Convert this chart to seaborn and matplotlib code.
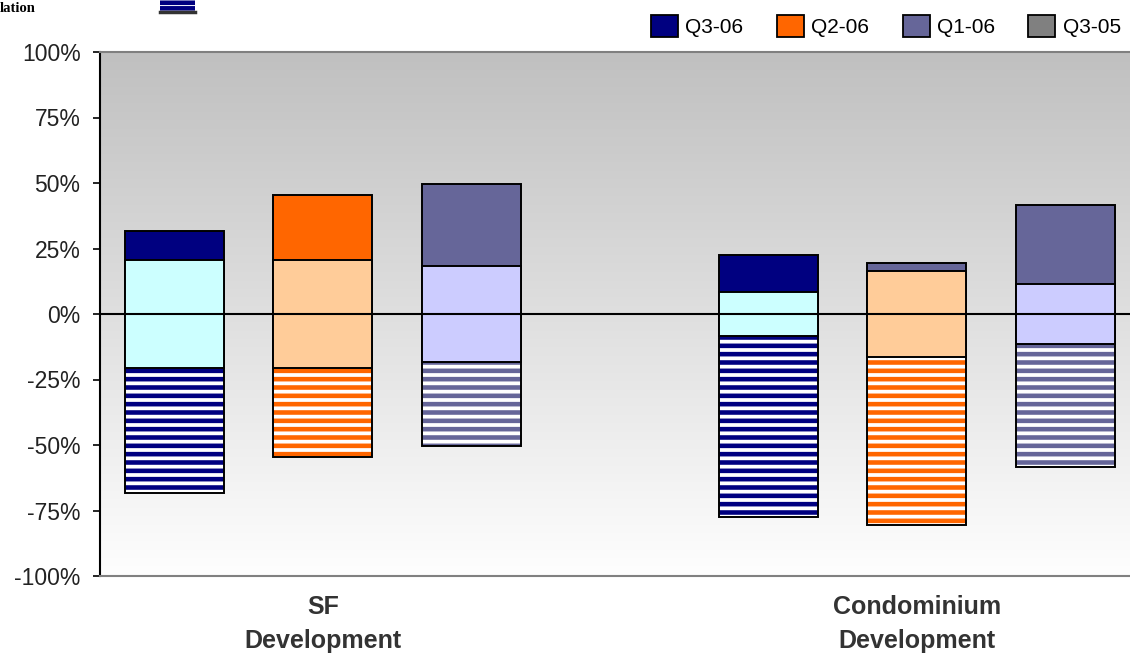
import numpy as np
import pandas as pd
import matplotlib
matplotlib.use("Agg")
import matplotlib.pyplot as plt
from matplotlib.colors import LinearSegmentedColormap
from matplotlib.patches import Patch, Rectangle
from matplotlib.lines import Line2D
import seaborn as sns

# ---- data -------------------------------------------------------------
categories = ["SF Development", "Condominium Development"]
category_labels = ["SF\nDevelopment", "Condominium\nDevelopment"]
quarters = ["Q3-06", "Q2-06", "Q1-06", "Q3-05"]
bar_quarters = ["Q3-06", "Q2-06", "Q1-06"]

# share of responses (%), in bar_quarters order
easier_sf = [11, 25, 31]
unchanged_sf = [41, 41, 37]
tighter_sf = [48, 34, 32]

easier_condo = [14, 3, 30]
unchanged_condo = [17, 33, 23]
tighter_condo = [69, 64, 47]

yticks = [-100, -75, -50, -25, 0, 25, 50, 75, 100]
ytick_labels = ["-100%", "-75%", "-50%", "-25%", "0%", "25%", "50%", "75%", "100%"]

dark = {"Q3-06": "#000080", "Q2-06": "#FF6600", "Q1-06": "#666699", "Q3-05": "#808080"}
light = {"Q3-06": "#CCFFFF", "Q2-06": "#FFCC99", "Q1-06": "#CCCCFF", "Q3-05": "#DDDDDD"}
slate = "#666699"

# ---- long table: unchanged share straddles zero ------------------------
rows = []
for cat, e_list, u_list, t_list in [
    (categories[0], easier_sf, unchanged_sf, tighter_sf),
    (categories[1], easier_condo, unchanged_condo, tighter_condo),
]:
    for q, e, u, t in zip(bar_quarters, e_list, u_list, t_list):
        rows.append({"category": cat, "quarter": q, "easier": e,
                     "unchanged": u, "tighter": t})
df = pd.DataFrame(rows)
df["upper"] = df["unchanged"] / 2 + df["easier"]
df["half_up"] = df["unchanged"] / 2
df["half_down"] = -df["unchanged"] / 2
df["lower"] = -(df["unchanged"] / 2 + df["tighter"])

# ---- figure -----------------------------------------------------------
plt.rcParams["font.family"] = ["Liberation Sans", "DejaVu Sans"]
plt.rcParams["hatch.linewidth"] = 3.3

W, H = 1130, 655
fig = plt.figure(figsize=(W / 100, H / 100), dpi=100)
ax = fig.add_axes([100 / W, 1 - 576 / H, 1 - 100 / W, 524 / H])

XMIN, XMAX = -0.5, 1.234
grad = np.linspace(0, 1, 256).reshape(-1, 1)
cmap = LinearSegmentedColormap.from_list("plotbg", ["#fefefe", "#c0c0c0"])
ax.imshow(grad, extent=(XMIN, XMAX, -100, 100), origin="lower",
          aspect="auto", cmap=cmap, zorder=0)

common = dict(data=df, x="category", hue="quarter", order=categories,
              hue_order=quarters, width=1.0, gap=1 / 3, dodge=True,
              saturation=1, legend=False, ax=ax, errorbar=None)
EDGE = 1.4


def layer(col, palette, **kw):
    n0 = len(ax.patches)
    sns.barplot(y=col, palette=palette, **common, **kw)
    return ax.patches[n0:]


# tighter share: striped fill in the series colour
for p in layer("lower", dark, linewidth=0, zorder=2):
    c = p.get_facecolor()
    p.set_facecolor("white")
    p.set_edgecolor(c)
    p.set_hatch("--")
    p.set_linewidth(0)

# outline of the striped part
for p in layer("lower", dark, zorder=3):
    p.set_facecolor("none")
    p.set_edgecolor("black")
    p.set_linewidth(EDGE)

layer("half_down", light, edgecolor="black", linewidth=EDGE, zorder=4)
top = layer("upper", dark, edgecolor="black", linewidth=EDGE, zorder=4)
layer("half_up", light, edgecolor="black", linewidth=EDGE, zorder=5)

# the small condominium Q2-06 cap is drawn in slate
slot = 1.0 / len(quarters)
label_pos = np.arange(len(categories)) - 0.5 + 1.5 * slot
for p in top:
    cx = p.get_x() + p.get_width() / 2
    if abs(cx - label_pos[1]) < 1e-6:
        p.set_facecolor(slate)

ax.axhline(0, color="black", linewidth=1.5, zorder=6)

ax.set_xlim(XMIN, XMAX)
ax.set_ylim(-100, 100)
ax.set_yticks(yticks, ytick_labels)
ax.set_xticks(label_pos, category_labels)
ax.set_xlabel("")
ax.set_ylabel("")

ax.tick_params(axis="y", length=5, width=1.2, color="black", pad=9,
               labelsize=16.5, labelcolor="#222222", direction="out")
ax.tick_params(axis="x", length=0, pad=14, labelsize=18, labelcolor="#333333")
for t in ax.get_xticklabels():
    t.set_fontweight("bold")
    t.set_linespacing(1.5)

ax.spines["left"].set_color("black")
ax.spines["left"].set_linewidth(1.5)
for s in ("top", "bottom"):
    ax.spines[s].set_color("#808080")
    ax.spines[s].set_linewidth(1.5)
ax.spines["right"].set_visible(False)

# ---- legends ----------------------------------------------------------
handles = [Patch(facecolor=dark[q], edgecolor="black", linewidth=1.3, label=q)
           for q in quarters]
fig.legend(handles=handles, loc="center left",
           bbox_to_anchor=(651 / W, 1 - 26 / H), ncol=4, frameon=False,
           fontsize=15, handlelength=1.3, handleheight=1.3,
           handletextpad=0.35, columnspacing=1.6, borderpad=0,
           borderaxespad=0)

fig.text(0, 1 - 8 / H, "lation", family=["Liberation Serif", "DejaVu Serif"],
         fontweight="bold", fontsize=10.5, va="center", ha="left", color="black")
fig.add_artist(Rectangle((160 / W, 1 - 12 / H), 35 / W, 30 / H,
                         transform=fig.transFigure, facecolor="white",
                         edgecolor="#000080", hatch="---", linewidth=0))
fig.add_artist(Line2D([160 / W, 195 / W], [1 - 12 / H, 1 - 12 / H],
                      transform=fig.transFigure, color="#333333", linewidth=2.5))

fig.savefig("out.png", dpi=100)
